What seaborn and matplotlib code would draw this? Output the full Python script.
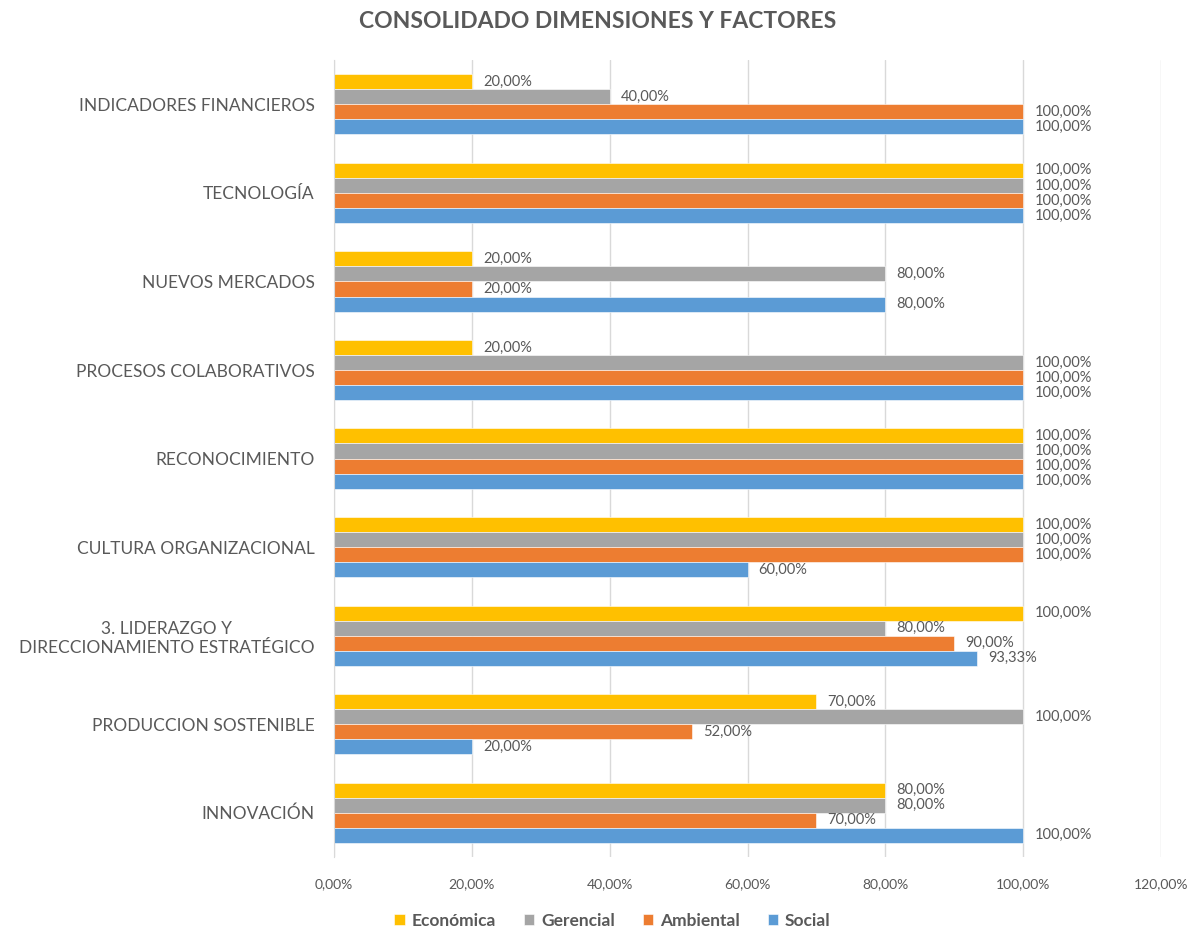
import seaborn as sns
import matplotlib.pyplot as plt
import pandas as pd
import numpy as np

categorias = ["INDICADORES FINANCIEROS", "TECNOLOGÍA", "NUEVOS MERCADOS",
              "PROCESOS COLABORATIVOS", "RECONOCIMIENTO", "CULTURA ORGANIZACIONAL",
              "3. LIDERAZGO Y\nDIRECCIONAMIENTO ESTRATÉGICO", "PRODUCCION SOSTENIBLE",
              "INNOVACIÓN"]
series = ["Económica", "Gerencial", "Ambiental", "Social"]
economica = [20, 100, 20, 20, 100, 100, 100, 70, 80]
gerencial = [40, 100, 80, 100, 100, 100, 80, 100, 80]
ambiental = [100, 100, 20, 100, 100, 100, 90, 52, 70]
social = [100, 100, 80, 100, 100, 60, 93.33, 20, 100]
colores = ["#FFC000", "#A5A5A5", "#ED7D31", "#5B9BD5"]
ticks = [0, 20, 40, 60, 80, 100, 120]

rows = []
for s, vals in zip(series, [economica, gerencial, ambiental, social]):
    for c, v in zip(categorias, vals):
        rows.append({"cat": c, "serie": s, "valor": v})
df = pd.DataFrame(rows)

sns.set_style("white")
plt.rcParams['font.family'] = ['Lato', 'DejaVu Sans']
txt = "#595959"

fig = plt.figure(figsize=(11.96, 9.32), dpi=100)
ax = fig.add_axes([0.2793, 0.0805, 0.6915, 0.855])
sns.barplot(data=df, x="valor", y="cat", hue="serie", order=categorias,
            hue_order=series, palette=colores, orient="h", width=0.68,
            saturation=1, ax=ax, legend=True, edgecolor="white", linewidth=0.4)

def fmt(v):
    return f"{v:.2f}".replace(".", ",") + "%"

for cont in ax.containers:
    ax.bar_label(cont, labels=[fmt(b.get_width()) for b in cont], padding=8,
                 fontsize=10.5, color=txt)

ax.set_xlim(0, 120)
ax.set_xticks(ticks)
ax.set_xticklabels([fmt(t) for t in ticks], fontsize=10, color=txt)
ax.tick_params(axis="x", length=0, pad=15)
ax.tick_params(axis="y", length=0, pad=14, labelsize=12.5, labelcolor=txt)
for lab in ax.get_yticklabels():
    lab.set_horizontalalignment("right")
    lab.set_multialignment("center")
ax.grid(axis="x", color="#D9D9D9", linewidth=1)
ax.set_axisbelow(True)
for sp in ["top", "right", "bottom"]:
    ax.spines[sp].set_visible(False)
ax.spines["left"].set_color("#D9D9D9")
ax.set_xlabel("")
ax.set_ylabel("")

fig.text(0.5, 0.977, "CONSOLIDADO DIMENSIONES Y FACTORES", ha="center", va="center",
         fontsize=16.5, fontweight="bold", color=txt)

handles, labels = ax.get_legend_handles_labels()
ax.legend_.remove()
leg = fig.legend(handles, labels, loc="center", bbox_to_anchor=(0.512, 0.012), ncol=4,
                 frameon=False, fontsize=12.5, handlelength=0.6, handleheight=0.6,
                 columnspacing=1.6, handletextpad=0.4)
for t in leg.get_texts():
    t.set_color(txt)
    t.set_fontweight("bold")

fig.savefig("out.png", dpi=100)
